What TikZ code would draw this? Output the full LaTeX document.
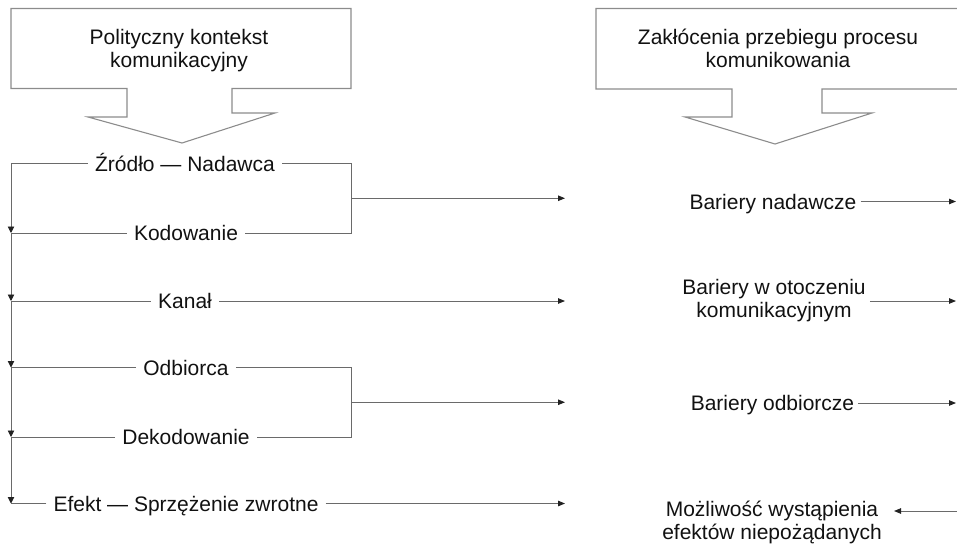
\documentclass[tikz,border=0pt]{standalone}
\usepackage{fontspec}
\setmainfont{Liberation Sans}
\usetikzlibrary{arrows.meta,calc}
\definecolor{ink}{HTML}{111111}
\definecolor{wirec}{HTML}{6A6A6A}
\definecolor{framec}{HTML}{8C8C8C}
\definecolor{tipc}{HTML}{222222}

\begin{document}
\begin{tikzpicture}[x=1pt,y=-1pt,
  every node/.style={font=\fontsize{21}{23}\selectfont, text=ink},
  lab/.style={inner xsep=7pt, inner ysep=0pt, text height=15pt, text depth=0pt},
  rlab/.style={inner xsep=4pt, inner ysep=0pt, text height=15pt, text depth=0pt},
  rblock/.style={inner xsep=4pt, inner ysep=0pt, align=center},
  boxtext/.style={inner sep=0pt, align=center},
  conn/.style={draw=wirec, line width=0.9pt},
  conarrow/.style={conn, -{Triangle[length=7pt,width=5.5pt,color=tipc]}},
  downarr/.style={conn, -{Triangle[length=6.5pt,width=6.5pt,color=tipc]}},
  boxline/.style={draw=framec, line width=1.1pt, line join=miter}
]
\useasboundingbox (0,0) rectangle (957,543);

% block arrows with their headings
\draw[boxline] (127,117) -- (127,88.5) -- (11,88.5) -- (11,8.5) -- (351,8.5)
  -- (351,88.5) -- (232,88.5) -- (232,113) -- (275,113) -- (182,143) -- (88,117) -- cycle;
\draw[boxline] (957,8.5) -- (596,8.5) -- (596,89) -- (732,89) -- (732,117)
  -- (685,117) -- (775,144) -- (872,113) -- (822,113) -- (822,89) -- (957,89);
\node[boxtext] (ctx) at (179,50.5) {Polityczny kontekst\\komunikacyjny};
\node[boxtext] (dis) at (778,48.5) {Zakłócenia przebiegu procesu\\komunikowania};

% guide lines
\coordinate (L) at (11,0);
\coordinate (R) at (351,0);
\coordinate (T) at (565,0);
\coordinate (E) at (956,0);

% stages of the process
\node[lab] (zr)  at (185,163.5) {Źródło — Nadawca};
\node[lab] (kod) at (186,233)   {Kodowanie};
\node[lab] (kan) at (185,301)   {Kanał};
\node[lab] (odb) at (186,367.5) {Odbiorca};
\node[lab] (dek) at (186,437)   {Dekodowanie};
\node[lab] (efe) at (186,503.5) {Efekt — Sprzężenie zwrotne};

% barriers
\node[rlab]   (bn)  at (773,201.5) {Bariery nadawcze};
\node[rblock] (bo)  at (774,301)   {Bariery w otoczeniu\\komunikacyjnym};
\node[rlab]   (bod) at (772.5,403) {Bariery odbiorcze};
\node[rblock] (me)  at (772,522.5) {Możliwość wystąpienia\\efektów niepożądanych};

% left spine
\foreach \n in {zr,kod,kan,odb,dek,efe}
  \draw[conn] (\n.west) -- (\n.west -| L);
\draw[downarr] (zr.west -| L)  -- (kod.west -| L);
\draw[downarr] (kod.west -| L) -- (kan.west -| L);
\draw[downarr] (kan.west -| L) -- (odb.west -| L);
\draw[downarr] (odb.west -| L) -- (dek.west -| L);
\draw[downarr] (dek.west -| L) -- (efe.west -| L);

% brackets on the right side
\draw[conn] (zr.east) -- (zr.east -| R) -- (kod.east -| R) -- (kod.east);
\coordinate (b1) at ($(zr.east -| R)!0.5!(kod.east -| R)$);
\draw[conarrow] (b1) -- (b1 -| T);
\draw[conarrow] (kan.east) -- (kan.east -| T);
\draw[conn] (odb.east) -- (odb.east -| R) -- (dek.east -| R) -- (dek.east);
\coordinate (b2) at ($(odb.east -| R)!0.5!(dek.east -| R)$);
\draw[conarrow] (b2) -- (b2 -| T);
\draw[conarrow] (efe.east) -- (efe.east -| T);

% arrows of the barrier column
\draw[conarrow] (bn.east)  -- (bn.east -| E);
\draw[conarrow] (bo.east)  -- (bo.east -| E);
\draw[conarrow] (bod.east) -- (bod.east -| E);
\coordinate (mS) at (957,511);
\coordinate (mT) at (894,511);
\draw[conarrow] (mS) -- (mT);
\end{tikzpicture}
\end{document}
